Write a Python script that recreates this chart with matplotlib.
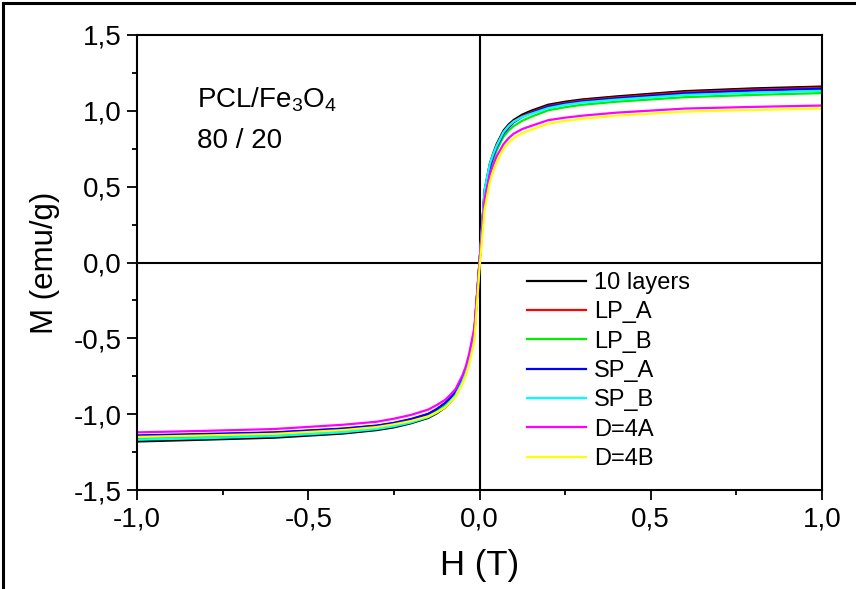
import matplotlib
matplotlib.use("Agg")
import matplotlib.pyplot as plt
from matplotlib.lines import Line2D
from matplotlib.ticker import MultipleLocator, FuncFormatter

plt.rcParams['font.family'] = ['Liberation Sans', 'DejaVu Sans']
plt.rcParams['mathtext.default'] = 'regular'

# ---- data ----
H = [-1.0, -0.8, -0.6, -0.4, -0.3, -0.25, -0.2, -0.15, -0.125, -0.1, -0.085, -0.07, -0.05, -0.04, -0.03, -0.015,
     0.0,
     0.015, 0.03, 0.04, 0.05, 0.07, 0.085, 0.1, 0.125, 0.15, 0.2, 0.25, 0.3, 0.4, 0.6, 0.8, 1.0]

M_10layers = [-1.180, -1.168, -1.155, -1.128, -1.105, -1.087, -1.060, -1.025, -0.995, -0.955, -0.920, -0.880, -0.790, -0.730, -0.640, -0.470,
              0.0,
              0.480, 0.650, 0.720, 0.780, 0.870, 0.910, 0.940, 0.975, 1.000, 1.040, 1.060, 1.075, 1.095, 1.130, 1.148, 1.160]
M_LP_A = [-1.145, -1.135, -1.122, -1.097, -1.077, -1.060, -1.035, -1.000, -0.970, -0.930, -0.897, -0.860, -0.770, -0.710, -0.630, -0.460,
          0.0,
          0.470, 0.640, 0.710, 0.770, 0.860, 0.900, 0.930, 0.965, 0.990, 1.032, 1.052, 1.068, 1.088, 1.122, 1.140, 1.152]
M_LP_B = [-1.160, -1.150, -1.138, -1.112, -1.090, -1.072, -1.048, -1.012, -0.982, -0.940, -0.905, -0.865, -0.775, -0.715, -0.630, -0.460,
          0.0,
          0.440, 0.610, 0.680, 0.740, 0.830, 0.870, 0.900, 0.935, 0.960, 1.003, 1.024, 1.040, 1.060, 1.090, 1.105, 1.117]
M_SP_A = [-1.140, -1.130, -1.120, -1.095, -1.075, -1.057, -1.032, -0.998, -0.966, -0.925, -0.892, -0.855, -0.765, -0.705, -0.620, -0.450,
          0.0,
          0.460, 0.630, 0.700, 0.760, 0.850, 0.890, 0.925, 0.960, 0.985, 1.027, 1.047, 1.062, 1.082, 1.115, 1.133, 1.145]
M_SP_B = [-1.168, -1.158, -1.145, -1.120, -1.098, -1.080, -1.055, -1.020, -0.990, -0.950, -0.915, -0.875, -0.785, -0.725, -0.640, -0.470,
          0.0,
          0.480, 0.650, 0.715, 0.770, 0.860, 0.900, 0.930, 0.960, 0.980, 1.018, 1.040, 1.055, 1.074, 1.105, 1.120, 1.132]
M_D4A = [-1.120, -1.110, -1.098, -1.070, -1.050, -1.030, -1.005, -0.970, -0.940, -0.905, -0.872, -0.835, -0.745, -0.685, -0.600, -0.430,
         0.0,
         0.420, 0.580, 0.645, 0.700, 0.780, 0.820, 0.850, 0.880, 0.900, 0.938, 0.955, 0.968, 0.988, 1.015, 1.026, 1.035]
M_D4B = [-1.150, -1.140, -1.130, -1.105, -1.085, -1.067, -1.045, -1.015, -0.988, -0.955, -0.922, -0.885, -0.800, -0.745, -0.670, -0.520,
         -0.040,
         0.350, 0.530, 0.600, 0.660, 0.750, 0.790, 0.820, 0.853, 0.875, 0.915, 0.933, 0.948, 0.968, 0.995, 1.006, 1.015]

labels = ['10 layers', 'LP_A', 'LP_B', 'SP_A', 'SP_B', 'D=4A', 'D=4B']
colors = ['#000000', '#ff0000', '#00ee00', '#0000ff', '#00ffff', '#ff00ff', '#ffff00']
series = [M_10layers, M_LP_A, M_LP_B, M_SP_A, M_SP_B, M_D4A, M_D4B]

x_ticks = [-1.0, -0.5, 0.0, 0.5, 1.0]
y_ticks = [-1.5, -1.0, -0.5, 0.0, 0.5, 1.0, 1.5]

# ---- figure ----
fig = plt.figure(figsize=(8.56, 5.89), dpi=100)
ax = fig.add_axes([137/856, 1-490/589, 685/856, 455/589])

ax.axhline(0, color='black', lw=1.5, zorder=1)
ax.axvline(0, color='black', lw=1.5, zorder=1)

for m, lab, c in zip(series, labels, colors):
    ax.plot(H, m, color=c, lw=1.6, label=lab, zorder=2)

ax.set_xlim(-1.0, 1.0)
ax.set_ylim(-1.5, 1.5)
ax.set_xticks(x_ticks)
ax.set_yticks(y_ticks)
ax.xaxis.set_minor_locator(MultipleLocator(0.25))
ax.yaxis.set_minor_locator(MultipleLocator(0.25))
fmt = FuncFormatter(lambda v, p: f"{v:.1f}".replace('.', ',').replace('-0,0', '0,0'))
ax.xaxis.set_major_formatter(fmt)
ax.yaxis.set_major_formatter(fmt)
ax.tick_params(which='major', direction='out', length=7, width=1.3, labelsize=20, pad=4)
ax.tick_params(which='minor', direction='out', length=3.5, width=1.3)
ax.tick_params(axis='x', which='major', pad=5)
for s in ax.spines.values():
    s.set_linewidth(1.5)

ax.set_xlabel('H (T)', fontsize=25, labelpad=12)
ax.set_ylabel('M (emu/g)', fontsize=22.5, labelpad=10)

ax.text(0.0876, 0.8396, r'PCL/Fe$_3$O$_4$', transform=ax.transAxes, fontsize=20, va='baseline', ha='left')
ax.text(0.0876, 0.7516, '80 / 20', transform=ax.transAxes, fontsize=20, va='baseline', ha='left')

leg = ax.legend(loc='upper left', bbox_to_anchor=(0.569, 0.479), frameon=False,
                fontsize=17, handlelength=2.5, handletextpad=0.35, labelspacing=0.31,
                borderaxespad=0, borderpad=0)
for l in leg.get_lines():
    l.set_linewidth(1.6)

# figure border (left and top edges)
fig.add_artist(Line2D([3/856, 3/856], [0, 1-3/589], transform=fig.transFigure, color='black', lw=2.2))
fig.add_artist(Line2D([3/856, 1], [1-3/589, 1-3/589], transform=fig.transFigure, color='black', lw=2.2))

fig.savefig('out.png', dpi=100)
